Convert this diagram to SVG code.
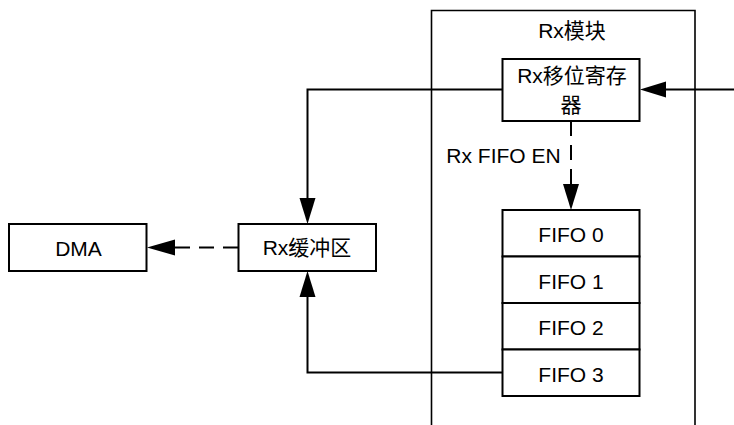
<svg xmlns="http://www.w3.org/2000/svg" width="734" height="425" viewBox="0 0 734 425">
<style>
.box{fill:#fff;stroke:#000;stroke-width:2}
.mod{fill:none;stroke:#000;stroke-width:1.6}
.t{font-family:"Liberation Sans","Noto Sans CJK SC",sans-serif;font-size:21px;fill:#000;text-anchor:middle}
.ln{fill:none;stroke:#000;stroke-width:2}
.dash{stroke-dasharray:15 9}
.ah{fill:#000;stroke:none}
</style>
<rect width="734" height="425" fill="#fff"/>
<g id="rx-module">
<path class="mod" d="M431.5 425V10.5H695V425"/>
<text class="t" x="572" y="38">Rx模块</text>
</g>
<g id="connectors">
<path class="ln" d="M734 89.5H664"/>
<polygon class="ah" points="640,89.5 666,81.5 666,97.5"/>
<path class="ln" d="M502 89.5H307.5V200"/>
<polygon class="ah" points="307.5,224 299.5,198 315.5,198"/>
<path class="ln" d="M502 372.5H307.5V296"/>
<polygon class="ah" points="307.5,271 299.5,297 315.5,297"/>
<path class="ln dash" d="M571 121V184"/>
<polygon class="ah" points="571,210 563,184 579,184"/>
<path class="ln dash" d="M175 247.5H238"/>
<polygon class="ah" points="147,247.5 175,239.5 175,255.5"/>
<text class="t" x="503.5" y="163">Rx FIFO EN</text>
</g>
<g id="rx-shift-register">
<rect class="box" x="502.5" y="59" width="137" height="62"/>
<text class="t" x="572" y="82.5">Rx移位寄存</text>
<text class="t" x="571" y="112">器</text>
</g>
<g id="fifo0">
<rect class="box" x="502.5" y="210" width="137" height="46.5"/>
<text class="t" x="571" y="242">FIFO 0</text>
</g>
<g id="fifo1">
<rect class="box" x="502.5" y="256.5" width="137" height="46.5"/>
<text class="t" x="571" y="288.5">FIFO 1</text>
</g>
<g id="fifo2">
<rect class="box" x="502.5" y="303" width="137" height="46.5"/>
<text class="t" x="571" y="335">FIFO 2</text>
</g>
<g id="fifo3">
<rect class="box" x="502.5" y="349.5" width="137" height="46.5"/>
<text class="t" x="571" y="381.5">FIFO 3</text>
</g>
<g id="rx-buffer">
<rect class="box" x="238.5" y="224" width="137.5" height="47"/>
<text class="t" x="307" y="255">Rx缓冲区</text>
</g>
<g id="dma">
<rect class="box" x="9" y="224" width="137.5" height="47"/>
<text class="t" x="78.5" y="255.5">DMA</text>
</g>
</svg>
